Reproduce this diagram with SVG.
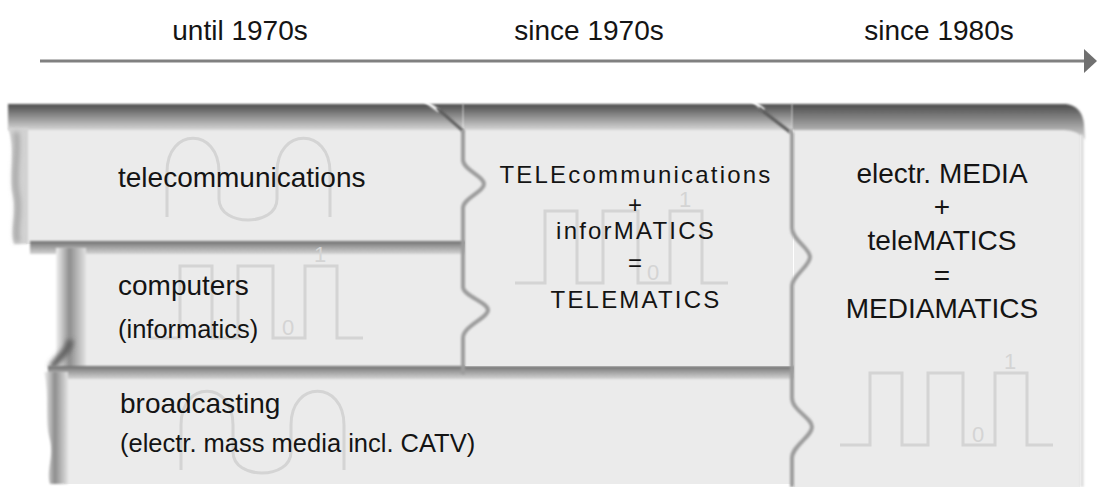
<svg xmlns="http://www.w3.org/2000/svg" width="1097" height="487" viewBox="0 0 1097 487">
<style>
.t{font-family:"Liberation Sans",Arial,Helvetica,sans-serif;fill:#141414;font-size:28px}
.s{font-size:25.5px}
.m{text-anchor:middle}
.sp{font-size:24px;letter-spacing:2.2px}
.face{fill:#ebebeb}
.wm{fill:none;stroke:#d4d4d4;stroke-width:3}
.wmt{font-family:"Liberation Sans",Arial,sans-serif;font-size:22px;fill:#d4d4d4;text-anchor:middle}
.div{fill:none;stroke:#9c9c9c;stroke-width:4;filter:url(#soft)}
.dia{fill:none;stroke:#5a5a5a;stroke-width:3;filter:url(#soft)}
.notch{fill:none;stroke:#ffffff;stroke-width:3;filter:url(#soft)}
.blur{filter:url(#soft)}
</style>
<defs>
<filter id="soft" filterUnits="userSpaceOnUse" x="0" y="0" width="1097" height="487"><feGaussianBlur stdDeviation="1.3"/></filter>
<filter id="soft2" filterUnits="userSpaceOnUse" x="0" y="0" width="1097" height="487"><feGaussianBlur stdDeviation="2.5"/></filter>
<linearGradient id="band" x1="0" y1="0" x2="0" y2="1"><stop offset="0" stop-color="#4c4c4c"/><stop offset="0.45" stop-color="#8a8a8a"/><stop offset="1" stop-color="#d6d6d6"/></linearGradient>
<linearGradient id="edge" x1="0" y1="0" x2="0" y2="1"><stop offset="0" stop-color="#6e6e6e"/><stop offset="0.4" stop-color="#9a9a9a"/><stop offset="1" stop-color="#d4d4d4"/></linearGradient>
<linearGradient id="side" x1="0" y1="0" x2="1" y2="0"><stop offset="0" stop-color="#f2f2f2"/><stop offset="0.45" stop-color="#8e8e8e"/><stop offset="1" stop-color="#e2e2e2"/></linearGradient>
<g id="sq"><path class="wm" d="M0,0 H30 V-72 H62 V0 H88 V-72 H123 V0 H155 V-72 H187 V0 H213"/><text class="wmt" x="138" y="-3">0</text><text class="wmt" x="170" y="-76">1</text></g>
<path id="sine" class="wm" d="M0,80 V35 C0,-10 52,-10 52,35 V62 C52,90 110,90 110,62 V35 C110,-10 163,-10 163,35 V80"/>
<marker id="ah" markerUnits="userSpaceOnUse" markerWidth="14" markerHeight="24" refX="0" refY="12" orient="auto"><path d="M0,0 L13,12 L0,24 Z" fill="#707070"/></marker>
</defs>
<rect x="0" y="0" width="1097" height="487" fill="#ffffff"/>

<g id="connectors">
<line x1="40" y1="61" x2="1084" y2="61" stroke="#808080" stroke-width="3" marker-end="url(#ah)"/>
</g>

<g id="timeline-labels">
<text class="t m" x="240" y="40">until 1970s</text>
<text class="t m" x="589" y="40">since 1970s</text>
<text class="t m" x="939" y="40">since 1980s</text>
</g>

<g id="telecommunications">
<rect class="face" x="26" y="128" width="440" height="116"/>
<path d="M8,104 H463 V130 H8 Z" fill="url(#band)" class="blur"/>
<path d="M8,128 C16,150 9,175 13,195 C17,215 10,230 14,244 L28,244 L28,128 Z" fill="#d2d2d2" class="blur"/>
<path d="M16,132 C20,150 12,175 17,195 C21,215 13,230 18,242" fill="none" stroke="#a4a4a4" stroke-width="5" filter="url(#soft2)"/>
<use href="#sine" x="167" y="137"/>
<text class="t" x="118" y="187">telecommunications</text>
</g>

<g id="computers">
<rect class="face" x="84" y="250" width="382" height="120"/>
<rect x="30" y="241" width="435" height="13" fill="url(#edge)" class="blur"/>
<rect x="56" y="248" width="30" height="122" fill="url(#side)" class="blur"/>
<path d="M70,340 C70,352 56,358 52,368" fill="none" stroke="#5e5e5e" stroke-width="7" filter="url(#soft2)"/>
<use href="#sq" x="150" y="338"/>
<text class="t" x="118" y="295">computers</text>
<text class="t s" x="118" y="338">(informatics)</text>
</g>

<g id="broadcasting">
<rect class="face" x="64" y="376" width="730" height="108"/>
<rect x="48" y="366" width="746" height="13" fill="url(#edge)" class="blur"/>
<path d="M44,372 C50,395 44,420 50,440 C54,458 46,470 50,484 L68,484 L68,372 Z" fill="url(#side)" class="blur"/>
<use href="#sine" x="181" y="390"/>
<text class="t" x="120" y="413">broadcasting</text>
<text class="t s" x="120" y="452">(electr. mass media incl. CATV)</text>
</g>

<g id="telematics">
<rect class="face" x="465" y="128" width="328" height="238"/>
<path d="M463,104 H792 V130 H463 Z" fill="url(#band)" class="blur"/>
<path class="notch" d="M425,101 L439,111"/>
<path class="dia" d="M437,108 L463,131"/>
<path class="div" d="M463,130 V160 C463,170 484,176 484,184 C484,192 463,198 463,208 V287 C463,296 488,302 488,310 C488,318 463,326 463,338 V374"/>
<use href="#sq" x="515" y="283"/>
<text class="t m sp" x="636" y="183">TELEcommunications</text>
<text class="t m sp" x="636" y="213">+</text>
<text class="t m sp" x="636" y="239">inforMATICS</text>
<text class="t m sp" x="636" y="271">=</text>
<text class="t m sp" x="636" y="308">TELEMATICS</text>
</g>

<g id="mediamatics">
<rect class="face" x="794" y="128" width="286" height="359"/>
<path d="M792,104 H1066 Q1082,106 1084,124 L1085,140 Q1078,130 1064,130 H792 Z" fill="url(#band)" class="blur"/>
<line x1="1082" y1="135" x2="1082" y2="487" stroke="#dadada" stroke-width="3" class="blur"/>
<path class="notch" d="M752,100 L764,110"/>
<path class="dia" d="M759,108 L790,132"/>
<path class="div" d="M790,130 L792,134 V228 C792,240 810,248 810,257 C810,266 792,276 792,286 V398 C792,410 812,418 812,427 C812,436 792,446 792,458 V487"/>
<use href="#sq" x="840" y="445"/>
<text class="t m" x="942" y="183">electr. MEDIA</text>
<text class="t m" x="942" y="216">+</text>
<text class="t m" x="942" y="250">teleMATICS</text>
<text class="t m" x="942" y="285">=</text>
<text class="t m" x="942" y="318">MEDIAMATICS</text>
</g>
</svg>
